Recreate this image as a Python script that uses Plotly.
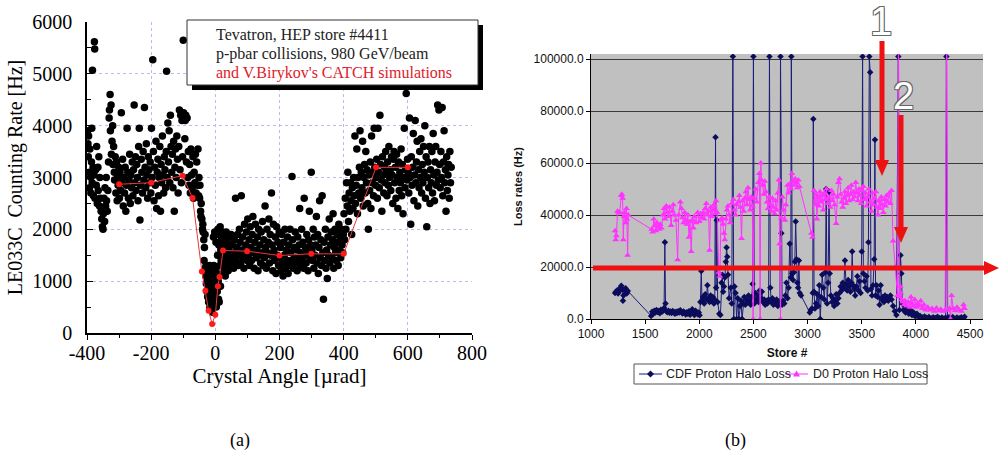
import plotly.graph_objects as go

# ---------------- Panel (a) data ----------------
scan_pts = [
 (-398,3900),(-397,3650),(-396,3400),(-395,3800),(-393,3100),(-392,2800),(-391,3550),(-389,3000),(-388,2700),(-386,3300),
 (-385,3950),(-384,2900),(-383,5070),(-381,3200),(-380,2650),(-378,3050),(-377,5620),(-376,5480),(-375,2600),(-373,3150),
 (-371,2850),(-370,3600),(-368,2500),(-366,3200),(-365,2750),(-363,3400),(-361,2450),(-360,3000),(-358,2600),(-356,2350),
 (-354,2200),(-352,2050),(-350,2000),(-349,2300),(-347,2600),(-345,2150),(-344,2800),(-342,2450),(-340,3000),(-339,2550),
 (-337,2350),(-335,2750),(-333,3300),(-331,4150),(-330,4300),(-328,4600),(-327,3900),(-325,4400),(-324,3450),(-322,3700),
 (-320,4000),(-319,3250),(-317,3600),(-315,3100),(-314,2950),(-312,3400),(-310,2700),(-308,3300),(-306,2550),(-305,3000),
 (-303,2850),(-301,3200),(-299,2600),(-297,3100),(-295,2750),(-293,4250),(-291,2900),(-289,3350),(-287,2450),(-285,3000),
 (-283,2700),(-281,3200),(-279,2350),(-277,2850),(-275,3950),(-273,3100),(-271,2600),(-269,2950),(-267,3450),(-265,2500),
 (-263,3050),(-261,2800),(-259,3300),(-257,2650),(-255,3150),(-253,4400),(-251,2900),(-249,3400),(-247,2750),(-245,3250),
 (-243,3000),(-241,2550),(-239,3600),(-237,3950),(-235,2180),(-233,2850),(-231,3350),(-229,3100),(-227,2700),(-225,3500),
 (-223,2950),(-221,4350),(-219,3200),(-217,2800),(-215,3650),(-213,3050),(-211,2600),(-209,3400),(-207,3150),(-205,2900),
 (-203,3300),(-201,2700),(-199,3950),(-197,3000),(-195,5270),(-193,3500),(-191,2550),(-189,3200),(-187,2850),(-185,3700),
 (-183,2400),(-181,3100),(-179,3350),(-177,2650),(-175,3000),(-173,3600),(-171,2350),(-169,3250),(-167,2900),(-165,3800),
 (-163,3050),(-161,2700),(-159,3400),(-157,3150),(-155,2800),(-153,3500),(-152,5050),(-150,3000),(-148,4050),(-146,3300),
 (-144,3900),(-142,2900),(-140,4200),(-138,3600),(-136,3100),(-134,3450),(-132,2800),(-130,3700),(-128,2350),(-126,3200),
 (-124,3550),(-122,3000),(-120,3800),(-118,3350),(-116,2700),(-114,3600),(-112,4300),(-110,3150),(-108,4200),(-106,2900),
 (-104,4100),(-102,3400),(-100,5650),(-99,4250),(-97,4150),(-95,3750),(-94,4100),(-92,4200),(-90,3300),(-88,4150),
 (-86,3000),(-84,3500),(-82,2850),(-80,3250),(-78,2700),(-76,3550),(-74,3050),(-72,2800),(-70,3400),(-68,2600),
 (-66,3100),(-64,2900),(-62,3450),(-60,2700),(-58,3300),(-56,2850),(-54,3550),(-52,2650),(-51,3000),(-49,2600),
 (-48,2850),(-46,2350),(-45,2250),(-44,2500),(-42,2200),(-40,2000),(-39,2100),(-38,1950),(-36,1800),(-35,1400),
 (-34,1650),(-32,1900),(-31,1250),(-30,1100),(-29,1300),(-28,950),(-27,1150),(-26,800),(-25,1000),(-24,700),
 (-23,1200),(-22,900),(-21,600),(-20,1050),(-19,750),(-18,1300),(-17,500),(-16,1100),(-15,850),(-14,600),
 (-13,1000),(-12,1200),(-11,700),(-10,900),(-9,400),(-8,1100),(-7,800),(-6,1850),(-5,1300),(-4,600),
 (-3,1000),(-2,1950),(-1,700),(0,1200),(1,900),(2,1750),(3,500),(4,1100),(5,1900),(6,800),
 (7,1500),(8,2000),(9,1000),(10,650),(11,1700),(12,600),(13,1900),(14,1300),(15,2050),(16,900),
 (17,1600),(18,1400),(19,1800),(20,1150),(22,1950),(23,1500),(24,1250),(26,1700),(27,1350),(28,1850),
 (30,1450),(31,1100),(33,1600),(34,1950),(36,1300),(37,1750),(39,1500),(40,1200),(42,1650),(43,1400),
 (45,1850),(46,1300),(48,1550),(49,1900),(51,1350),(53,1700),(55,1450),(57,1250),(59,1800),(61,1550),
 (63,2600),(65,1400),(67,1650),(69,1900),(71,1300),(73,1500),(75,2000),(77,1750),(79,1350),(81,2650),
 (83,1600),(85,1850),(87,1450),(89,1250),(91,2100),(93,1550),(95,1700),(97,1950),(99,1400),(101,2200),
 (103,1500),(105,1800),(107,1300),(109,2050),(111,1650),(113,1400),(115,1900),(117,2250),(119,1550),(121,1250),
 (123,1750),(125,2100),(127,1450),(129,1600),(131,1850),(133,1200),(135,2000),(137,1500),(139,1700),(141,1350),
 (143,1950),(145,1550),(147,2150),(149,1300),(151,1800),(153,1450),(155,2450),(157,1650),(159,1250),(161,2000),
 (163,1550),(165,1750),(167,2200),(169,1350),(171,1900),(173,1500),(175,2700),(177,1700),(179,1200),(181,2100),
 (183,1600),(185,1400),(187,1850),(189,1150),(191,2050),(193,1500),(195,1750),(197,1300),(199,1950),(201,1450),
 (203,1650),(205,1200),(207,1900),(209,1350),(211,1100),(213,1750),(215,1500),(217,2000),(219,1250),(221,1600),
 (223,1400),(225,1850),(227,1150),(229,1700),(231,1300),(233,2000),(235,1550),(237,1400),(239,3020),(241,1800),
 (243,1250),(245,1650),(247,1450),(249,1950),(251,1350),(253,1600),(255,1200),(257,1850),(259,1450),(261,1700),
 (263,2400),(265,1300),(267,1550),(269,2000),(271,1400),(273,1750),(275,1250),(277,2600),(279,1500),(281,1650),
 (283,1350),(285,1900),(287,1550),(289,1200),(291,1800),(293,2350),(295,1450),(297,1700),(299,3100),(301,1600),
 (303,1400),(305,2000),(307,1250),(309,1850),(311,1500),(313,1700),(315,2250),(317,1350),(319,1900),(321,1150),
 (323,1650),(325,2550),(327,1450),(329,1800),(331,1300),(333,2650),(335,1550),(337,650),(339,1750),(341,1400),
 (343,2000),(345,1250),(347,1600),(349,1050),(351,1850),(353,1500),(355,2200),(357,1350),(359,1700),(361,1950),
 (363,1450),(365,1800),(367,2300),(369,1250),(371,1650),(373,2000),(375,1550),(377,1400),(379,1900),(381,1750),
 (383,1300),(385,2100),(387,1600),(389,1850),(391,1450),(393,2000),(395,1700),(397,1550),(399,1900),(401,2300),
 (403,1800),(405,2600),(407,2000),(409,2900),(411,2450),(413,3100),(415,2150),(417,2700),(419,2350),(421,2900),
 (423,2550),(425,1900),(427,2800),(429,2400),(431,3000),(433,2650),(435,3800),(437,2500),(439,2850),(441,3550),
 (443,2300),(445,3000),(447,2700),(449,3200),(451,3900),(453,2600),(455,3100),(457,2800),(459,3700),(461,2450),
 (463,3000),(465,3250),(467,2700),(469,3500),(471,2900),(473,3150),(475,2500),(477,2000),(479,3050),(481,2750),
 (483,3300),(485,2400),(487,3800),(489,2900),(491,3100),(493,2650),(495,3950),(497,3200),(499,2850),(501,3000),
 (503,3350),(505,2600),(507,3950),(509,3100),(511,2800),(513,4200),(515,3250),(517,2950),(519,2350),(521,3400),
 (523,3050),(525,2700),(527,3200),(529,2900),(531,3500),(533,3100),(535,2650),(537,3300),(539,2850),(541,3600),
 (543,3000),(545,3150),(547,2750),(549,3400),(551,3050),(553,2500),(555,3350),(557,3500),(559,2900),(561,3200),
 (563,2600),(565,3450),(567,3000),(569,2400),(571,3300),(573,2750),(575,3100),(577,2900),(579,3550),(581,2650),
 (583,3250),(585,2300),(587,3000),(589,3950),(591,2800),(593,3150),(595,4620),(597,2950),(599,3350),(601,3100),
 (603,2700),(605,4150),(607,3000),(609,2100),(611,3400),(613,2850),(615,3200),(617,3850),(619,2550),(621,3050),
 (623,4100),(625,2900),(627,3300),(629,3700),(631,2450),(633,3150),(635,2800),(637,3500),(639,3000),(641,3750),
 (643,2700),(645,3250),(647,2900),(649,3600),(651,3100),(653,4000),(655,2600),(657,3400),(659,2050),(661,3000),
 (663,3300),(665,2800),(667,3600),(669,2500),(671,3150),(673,2900),(675,3500),(677,2700),(679,3850),(681,3050),
 (683,2550),(685,3300),(687,3600),(689,2850),(691,3100),(693,4400),(695,2950),(697,4300),(699,3250),(701,2800),
 (703,3500),(705,3000),(707,4350),(709,2650),(711,3300),(713,3900),(715,2900),(717,3150),(719,2350),(721,3400),
 (723,2750),(725,3050),(727,3250),(729,2600),(731,3500),(733,2900),(735,3200),
]
angle_urad = [p[0] for p in scan_pts]
rate_hz = [p[1] for p in scan_pts]

sim_angle = [-300, -200, -102, -71, -42, -31, -21, -10, 0, 8, 13, 24, 99, 200, 299, 400, 501, 600]
sim_rate = [2870, 2900, 3036, 2606, 1187, 815, 430, 173, 353, 900, 1078, 1592, 1579, 1495, 1528, 1528, 3196, 3196]

x_tick_vals = [-400, -200, 0, 200, 400, 600, 800]
x_tick_text = ["-400", "-200", "0", "200", "400", "600", "800"]

# ---------------- Panel (b) data ----------------
cdf_pts = [
 (1222,10000),(1230,10500),(1240,11000),(1250,9800),(1260,10600),(1270,12000),(1280,12800),(1288,11500),(1295,7000),(1300,9000),
 (1310,11000),(1320,11800),(1330,9800),(1340,10800),(1555,1200),(1565,2800),(1575,2000),(1585,3200),(1595,2500),(1605,3500),
 (1615,2700),(1625,3100),(1635,2200),(1645,3600),(1655,2800),(1665,3200),(1675,4200),(1682,29500),(1688,6000),(1695,3000),
 (1705,2600),(1715,3200),(1725,2400),(1735,2900),(1745,2300),(1755,3100),(1765,2600),(1775,2000),(1785,2800),(1795,2300),
 (1805,3000),(1815,2500),(1825,3400),(1835,2600),(1845,2100),(1855,2900),(1865,2400),(1875,1700),(1885,2600),(1895,2000),
 (1905,3000),(1915,1600),(1925,2500),(1935,3800),(1945,2200),(1955,1500),(1965,3200),(1975,2700),(1985,1800),(1995,2500),
 (2003,1400),(2010,6500),(2018,18500),(2025,7000),(2035,8500),(2045,6000),(2055,9500),(2065,7500),(2075,13000),(2085,8000),
 (2095,6500),(2105,9000),(2115,7000),(2125,8500),(2135,6000),(2143,7500),(2150,70000),(2155,12000),(2162,38000),(2170,6500),
 (2185,2000),(2195,1500),(2205,14000),(2212,17000),(2220,10500),(2228,12500),(2236,16000),(2245,22000),(2252,27500),(2258,24000),
 (2265,17000),(2275,8000),(2290,12000),(2300,6000),(2310,101000),(2318,0),(2325,12500),(2335,10000),(2345,0),(2355,8000),
 (2365,0),(2375,5000),(2385,7000),(2395,0),(2405,6000),(2415,8500),(2425,5500),(2435,7500),(2445,6500),(2455,9000),
 (2465,7000),(2475,5500),(2485,8500),(2492,13500),(2500,101000),(2508,6000),(2518,10000),(2528,7500),(2538,9000),(2548,6500),
 (2558,11000),(2568,8000),(2578,10500),(2588,6500),(2598,7500),(2608,5500),(2618,7000),(2628,6000),(2640,7500),(2648,101000),
 (2656,12000),(2665,6500),(2675,8000),(2685,5500),(2695,7000),(2705,6000),(2715,7500),(2725,5000),(2735,6500),(2745,6000),
 (2750,101000),(2758,33000),(2765,5500),(2775,7000),(2785,6000),(2795,9000),(2805,14000),(2815,8000),(2825,12000),(2835,29000),
 (2845,16000),(2850,101000),(2858,17500),(2866,15000),(2874,18000),(2882,22000),(2890,37500),(2897,23000),(2905,14000),(2912,12000),
 (2920,22500),(2928,10000),(2940,9000),(3020,2500),(3030,3500),(3040,4000),(3048,10000),(3053,77000),(3060,10500),(3068,4000),
 (3078,6000),(3088,9500),(3098,5000),(3108,13000),(3117,0),(3125,8500),(3135,17000),(3145,12000),(3155,7500),(3165,18000),
 (3172,50000),(3180,6000),(3190,14000),(3198,49000),(3205,17500),(3215,9000),(3225,6500),(3235,8000),(3245,5000),(3255,7000),
 (3265,9500),(3275,6000),(3285,8000),(3295,10000),(3305,12500),(3315,11000),(3325,14000),(3335,12000),(3345,22500),(3355,13500),
 (3365,11000),(3375,15000),(3385,12500),(3395,10500),(3405,14000),(3412,26000),(3420,13000),(3430,11500),(3440,9000),(3450,12500),
 (3460,16500),(3470,11000),(3480,14500),(3490,10000),(3500,26000),(3508,101000),(3515,17500),(3525,14500),(3535,12000),(3545,16500),
 (3555,11000),(3562,29500),(3570,101000),(3578,95000),(3585,11500),(3595,9000),(3605,13000),(3615,23000),(3622,69000),(3628,9000),
 (3638,13000),(3648,8500),(3655,11000),(3665,5500),(3675,13000),(3685,7500),(3695,8500),(3705,6500),(3715,9000),(3725,7500),
 (3735,8500),(3745,7000),(3755,8000),(3765,9000),(3775,7500),(3790,5000),(3805,3000),(3820,1500),(3838,101000),(3848,3500),
 (3858,24500),(3866,17500),(3875,6000),(3885,3500),(3895,5000),(3905,2500),(3920,4000),(3935,2000),(3950,3500),(3965,1500),
 (3980,2500),(3995,1000),(4010,2000),(4025,800),(4040,1200),(4060,600),(4080,1000),(4100,500),(4120,800),(4140,300),
 (4160,700),(4180,400),(4200,900),(4220,300),(4240,600),(4260,200),(4275,500),(4282,101000),(4292,400),(4305,700),
 (4320,300),(4340,800),(4360,200),(4380,600),(4400,300),(4420,700),(4440,400),(4450,900),
]
store_cdf = [p[0] for p in cdf_pts]
cdf_loss = [p[1] for p in cdf_pts]

d0_pts = [
 (1222,34000),(1228,30500),(1235,32000),(1245,41500),(1255,40800),(1265,41000),(1280,47500),(1285,48000),(1292,46500),(1298,30500),
 (1305,39500),(1312,41000),(1320,37000),(1328,42500),(1332,38500),(1338,24500),(1345,40000),(1560,34500),(1570,33500),(1580,38500),
 (1590,36000),(1600,34000),(1610,37000),(1620,35500),(1630,34500),(1640,36500),(1650,35000),(1665,40000),(1675,42500),(1685,38500),
 (1695,43500),(1705,41000),(1715,39500),(1725,43000),(1740,36000),(1750,41500),(1760,44000),(1770,40000),(1785,38000),(1800,22800),
 (1810,40000),(1825,45000),(1835,42500),(1845,39000),(1855,37000),(1865,41000),(1875,38000),(1885,36500),(1895,40000),(1905,31500),
 (1915,37500),(1925,26000),(1935,38000),(1945,35000),(1955,39500),(1970,37000),(1985,41000),(2000,37500),(2010,40500),(2020,39000),
 (2035,41000),(2045,38500),(2055,42500),(2065,44500),(2075,40000),(2085,41500),(2095,26500),(2105,43000),(2115,39500),(2125,42000),
 (2135,44000),(2145,40500),(2155,45500),(2165,41000),(2180,18000),(2190,16500),(2200,38000),(2210,39000),(2220,36500),(2228,33000),
 (2235,30500),(2245,38500),(2255,42000),(2265,43500),(2275,40000),(2285,37000),(2300,44500),(2315,46000),(2325,42000),(2335,40000),
 (2345,44000),(2360,45000),(2370,47500),(2380,43000),(2390,31000),(2400,45500),(2410,41500),(2420,46500),(2430,49000),(2440,44000),
 (2450,50500),(2460,46000),(2470,42000),(2480,47000),(2490,43500),(2497,0),(2505,46500),(2520,50000),(2530,45000),(2545,52500),
 (2555,56000),(2562,0),(2568,60000),(2575,53500),(2585,51500),(2595,48000),(2605,53000),(2615,49000),(2625,45000),(2635,42500),
 (2645,47000),(2655,44000),(2665,41500),(2675,46500),(2685,43000),(2695,40500),(2705,45500),(2715,42000),(2725,48500),(2735,53500),
 (2742,29000),(2750,0),(2758,39000),(2768,47000),(2778,42000),(2790,38000),(2800,44000),(2815,51500),(2825,48500),(2835,52000),
 (2845,50000),(2855,56000),(2865,53000),(2875,51500),(2885,54000),(2895,52500),(2905,50500),(2915,53500),(2925,51000),(3035,33000),
 (3045,31500),(3060,49500),(3070,44000),(3080,48000),(3086,38500),(3095,47000),(3105,43500),(3115,49000),(3125,45000),(3135,47500),
 (3145,42000),(3155,48500),(3165,46000),(3175,50000),(3185,44500),(3195,47000),(3210,43000),(3220,49500),(3230,45500),(3240,48000),
 (3250,44000),(3264,36800),(3275,47000),(3285,52500),(3295,54000),(3305,48000),(3315,45000),(3325,43000),(3335,46500),(3345,49000),
 (3355,44500),(3365,47500),(3375,50500),(3385,45500),(3395,48000),(3405,51500),(3415,46000),(3425,49000),(3435,47000),(3445,52500),
 (3455,48500),(3465,45500),(3475,50000),(3485,47500),(3495,44500),(3505,49500),(3515,51000),(3525,46000),(3535,48500),(3545,43500),
 (3555,47000),(3565,50000),(3580,45000),(3590,41500),(3600,48500),(3610,44000),(3620,46500),(3630,49000),(3640,43000),(3650,40000),
 (3660,45500),(3670,42500),(3680,47000),(3690,44000),(3700,41000),(3710,46000),(3720,43500),(3730,47500),(3740,45000),(3755,48500),
 (3765,44500),(3775,49500),(3790,30000),(3810,20000),(3830,9000),(3840,120000),(3848,8500),(3855,12500),(3862,10000),(3870,7500),
 (3880,6500),(3890,5500),(3900,7000),(3915,5000),(3930,6500),(3945,4500),(3955,8500),(3965,6000),(3975,5000),(3990,7500),
 (4005,4500),(4015,6000),(4030,5000),(4045,7000),(4060,4000),(4075,5500),(4090,3500),(4110,4500),(4130,3500),(4150,4000),
 (4170,3000),(4190,4200),(4210,3200),(4230,3800),(4250,3000),(4270,3500),(4285,120000),(4295,3500),(4310,4000),(4320,0),
 (4330,9000),(4345,4000),(4360,3200),(4380,4500),(4400,3500),(4420,3000),(4440,5500),(4450,4000),
]
store_d0 = [p[0] for p in d0_pts]
d0_loss = [p[1] for p in d0_pts]

legend_labels = ["CDF Proton Halo Loss", "D0 Proton Halo Loss"]

W, H = 999, 460
def PX(x):
    return x / W
def PY(y):
    return 1 - y / H

SERIF = "Liberation Serif, Times New Roman, serif"
SANS = "Liberation Sans, Arial, sans-serif"
CDF_LINE, CDF_MK = "#1c1c7a", "#0c0c5c"
D0_COL = "#ff33ff"

fig = go.Figure()

# panel (a)
fig.add_trace(go.Scatter(x=angle_urad, y=rate_hz, mode="markers", xaxis="x", yaxis="y",
                         marker=dict(color="black", size=7.5), showlegend=False, hoverinfo="skip"))
fig.add_trace(go.Scatter(x=sim_angle, y=sim_rate, mode="lines+markers", xaxis="x", yaxis="y",
                         line=dict(color="#e8383d", width=1), marker=dict(color="#ff1a1a", size=6),
                         showlegend=False))

# panel (b)
fig.add_trace(go.Scatter(x=store_cdf, y=cdf_loss, mode="lines+markers", xaxis="x2", yaxis="y2",
                         name=legend_labels[0], showlegend=False,
                         line=dict(color=CDF_LINE, width=1),
                         marker=dict(color=CDF_MK, size=5, symbol="diamond")))
fig.add_trace(go.Scatter(x=store_d0, y=d0_loss, mode="lines+markers", xaxis="x2", yaxis="y2",
                         name=legend_labels[1], showlegend=False,
                         line=dict(color=D0_COL, width=1),
                         marker=dict(color=D0_COL, size=6, symbol="triangle-up")))

grid_a = "#b8bce6"
fig.update_layout(
    width=W, height=H, margin=dict(l=0, r=0, t=0, b=0, autoexpand=False),
    paper_bgcolor="white", plot_bgcolor="rgba(0,0,0,0)", showlegend=False,
    xaxis=dict(domain=[PX(87), PX(472)], range=[-400, 800], anchor="y", automargin=False,
               tickvals=x_tick_vals, ticktext=x_tick_text,
               ticks="outside", ticklen=5, tickcolor="black",
               minor=dict(dtick=100, tick0=0, ticks="outside", ticklen=3, tickcolor="black", showgrid=False),
               showline=True, linecolor="black", linewidth=1.5,
               showgrid=True, gridcolor=grid_a, griddash="dot", gridwidth=1, zeroline=False,
               tickfont=dict(family=SERIF, size=20, color="black"), ticklabelstandoff=-4,
               title=dict(text="Crystal Angle [µrad]", font=dict(family=SERIF, size=21, color="black"), standoff=2)),
    yaxis=dict(domain=[PY(333), PY(22)], range=[0, 6000], anchor="x", dtick=1000, automargin=False,
               ticks="inside", ticklen=6, tickcolor="black",
               minor=dict(dtick=500, ticks="inside", ticklen=4, tickcolor="black", showgrid=False),
               showline=True, linecolor="black", linewidth=1.5,
               showgrid=True, gridcolor=grid_a, griddash="dot", gridwidth=1, zeroline=False,
               tickfont=dict(family=SERIF, size=20, color="black"), ticklabelstandoff=9,
               title=dict(text="LE033C \u00a0Counting Rate [Hz]", font=dict(family=SERIF, size=20, color="black"), standoff=4)),
    xaxis2=dict(domain=[PX(591), PX(983)], range=[1000, 4620], anchor="y2", dtick=500, tick0=1000, automargin=False,
                ticks="outside", ticklen=4, tickcolor="black",
                showline=True, linecolor="black", linewidth=1,
                showgrid=False, zeroline=False,
                tickfont=dict(family=SANS, size=12, color="#111"),
                title=dict(text="<b>Store #</b>", font=dict(family=SANS, size=12, color="#111"), standoff=8)),
    yaxis2=dict(domain=[PY(319), PY(54)], range=[0, 102000], anchor="x2", dtick=20000, tickformat=".1f", automargin=False,
                ticks="outside", ticklen=4, tickcolor="black",
                showline=True, linecolor="black", linewidth=1,
                showgrid=True, gridcolor="#3a3a3a", gridwidth=1, zeroline=False,
                tickfont=dict(family=SANS, size=12, color="#111"),
                title=dict(text="<b>Loss rates (Hz)</b>", font=dict(family=SANS, size=11, color="#111"), standoff=8)),
)

shapes = []
# gray plot area for panel (b)
shapes.append(dict(type="rect", xref="x2 domain", yref="y2 domain", x0=0, x1=1, y0=0, y1=1,
                   fillcolor="#c0c0c0", line=dict(width=0), layer="below"))
# annotation box with shadow in panel (a)
shapes.append(dict(type="rect", xref="paper", yref="paper", x0=PX(192), x1=PX(483), y0=PY(90), y1=PY(25),
                   fillcolor="black", line=dict(width=0), layer="above"))
shapes.append(dict(type="rect", xref="paper", yref="paper", x0=PX(187), x1=PX(478), y0=PY(85), y1=PY(20),
                   fillcolor="white", line=dict(color="#333", width=1), layer="above"))
# red arrows in panel (b)
RED = "#ee1111"
shapes.append(dict(type="line", xref="paper", yref="paper", x0=PX(882), x1=PX(882), y0=PY(41), y1=PY(162),
                   line=dict(color=RED, width=5)))
shapes.append(dict(type="path", xref="paper", yref="paper",
                   path=f"M {PX(875)},{PY(160)} L {PX(889)},{PY(160)} L {PX(882)},{PY(176)} Z",
                   fillcolor=RED, line=dict(width=0)))
shapes.append(dict(type="line", xref="paper", yref="paper", x0=PX(901), x1=PX(901), y0=PY(115), y1=PY(229),
                   line=dict(color=RED, width=5)))
shapes.append(dict(type="path", xref="paper", yref="paper",
                   path=f"M {PX(894)},{PY(227)} L {PX(908)},{PY(227)} L {PX(901)},{PY(243)} Z",
                   fillcolor=RED, line=dict(width=0)))
shapes.append(dict(type="line", xref="paper", yref="paper", x0=PX(593), x1=PX(986), y0=PY(268), y1=PY(268),
                   line=dict(color=RED, width=5)))
shapes.append(dict(type="path", xref="paper", yref="paper",
                   path=f"M {PX(984)},{PY(261)} L {PX(984)},{PY(275)} L {PX(999)},{PY(268)} Z",
                   fillcolor=RED, line=dict(width=0)))
# legend box (panel b)
shapes.append(dict(type="rect", xref="paper", yref="paper", x0=PX(634), x1=PX(927), y0=PY(384), y1=PY(364),
                   fillcolor="white", line=dict(color="#555", width=1)))
LY = 374
shapes.append(dict(type="line", xref="paper", yref="paper", x0=PX(639), x1=PX(662), y0=PY(LY), y1=PY(LY),
                   line=dict(color=CDF_LINE, width=1)))
shapes.append(dict(type="path", xref="paper", yref="paper",
                   path=f"M {PX(650.5)},{PY(LY-3.5)} L {PX(654)},{PY(LY)} L {PX(650.5)},{PY(LY+3.5)} L {PX(647)},{PY(LY)} Z",
                   fillcolor=CDF_MK, line=dict(width=0)))
shapes.append(dict(type="line", xref="paper", yref="paper", x0=PX(785), x1=PX(808), y0=PY(LY), y1=PY(LY),
                   line=dict(color=D0_COL, width=1)))
shapes.append(dict(type="path", xref="paper", yref="paper",
                   path=f"M {PX(796.5)},{PY(LY-3.5)} L {PX(800)},{PY(LY+2.5)} L {PX(793)},{PY(LY+2.5)} Z",
                   fillcolor=D0_COL, line=dict(width=0)))
fig.update_layout(shapes=shapes)

outline = "-1px -1px 0 #666, 1px -1px 0 #666, -1px 1px 0 #666, 1px 1px 0 #666"
annotations = [
    dict(text="Tevatron, HEP store #4411", x=PX(214), y=PY(34), xanchor="left", yanchor="middle",
         font=dict(family=SERIF, size=16, color="#222")),
    dict(text="p-pbar collisions, 980 GeV/beam", x=PX(214), y=PY(54), xanchor="left", yanchor="middle",
         font=dict(family=SERIF, size=16, color="#222")),
    dict(text="and V.Birykov's CATCH simulations", x=PX(214), y=PY(73), xanchor="left", yanchor="middle",
         font=dict(family=SERIF, size=16, color="#e0202a")),
    dict(text=legend_labels[0], x=PX(664), y=PY(LY), xanchor="left", yanchor="middle",
         font=dict(family=SANS, size=12.5, color="#222")),
    dict(text=legend_labels[1], x=PX(811), y=PY(LY), xanchor="left", yanchor="middle",
         font=dict(family=SANS, size=12.5, color="#222")),
    dict(text="1", x=PX(881), y=PY(21), xanchor="center", yanchor="middle",
         font=dict(family="Liberation Sans Narrow, " + SANS, size=40, color="white", shadow=outline)),
    dict(text="2", x=PX(903), y=PY(96), xanchor="center", yanchor="middle",
         font=dict(family="Liberation Sans Narrow, " + SANS, size=38, color="white", shadow=outline)),
    dict(text="(a)", x=PX(240), y=PY(440), xanchor="center", yanchor="middle",
         font=dict(family=SERIF, size=18, color="black")),
    dict(text="(b)", x=PX(735), y=PY(440), xanchor="center", yanchor="middle",
         font=dict(family=SERIF, size=18, color="black")),
]
for a in annotations:
    a.update(xref="paper", yref="paper", showarrow=False)
fig.update_layout(annotations=annotations)

fig.write_html("out.html", config={"displayModeBar": False},
               post_script="document.body.style.margin='0';document.body.style.padding='0';")
